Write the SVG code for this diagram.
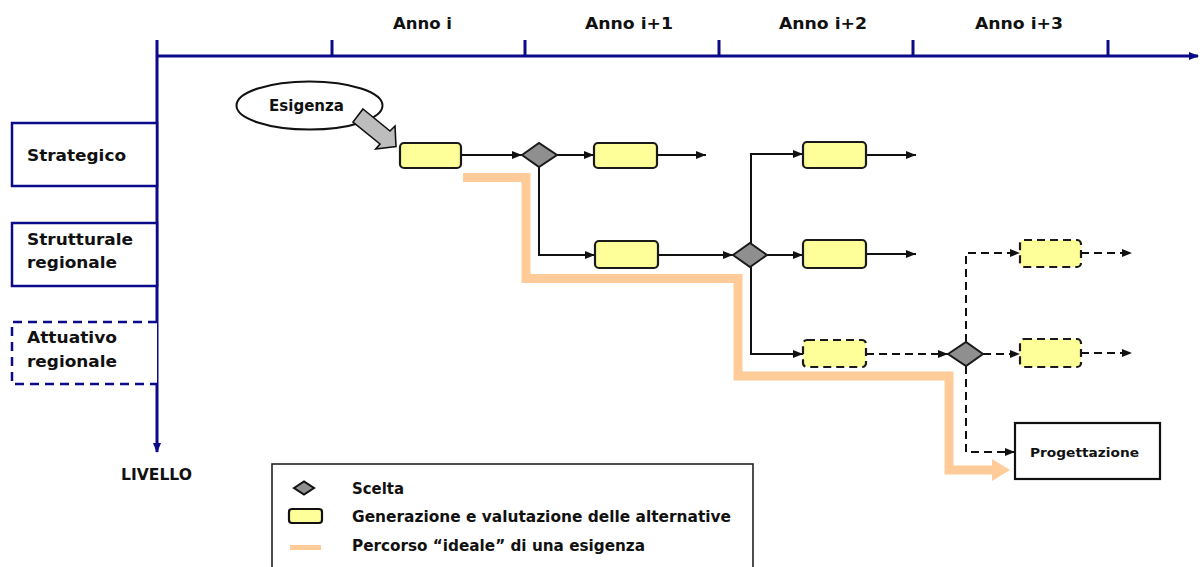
<svg xmlns="http://www.w3.org/2000/svg" width="1200" height="567" viewBox="0 0 1200 567">
<style>
  text { font-family: "DejaVu Sans", Verdana, sans-serif; font-weight: bold; fill: #111; }
  .axis { stroke: #0b0b8a; stroke-width: 3; fill: none; }
  .lvl { stroke: #0b0b8a; stroke-width: 2.5; fill: #fff; }
  .lvl-d { stroke: #0b0b8a; stroke-width: 2.5; fill: #fff; stroke-dasharray: 9 6; }
  .box { fill: #ffff99; stroke: #1a1a1a; stroke-width: 2.2; }
  .box-d { fill: #ffff99; stroke: #1a1a1a; stroke-width: 2.2; stroke-dasharray: 8 5; }
  .dia { fill: #8f8f8f; stroke: #1a1a1a; stroke-width: 2; }
  .con { stroke: #111; stroke-width: 2; fill: none; marker-end: url(#ah); }
  .con-d { stroke: #111; stroke-width: 2; fill: none; stroke-dasharray: 8 5; marker-end: url(#ah); }
  .path { stroke: #ffcc99; stroke-width: 9; fill: none; }
</style>
<defs>
  <marker id="ah" viewBox="0 0 10 8" refX="10" refY="4" markerWidth="10" markerHeight="8" markerUnits="userSpaceOnUse" orient="auto">
    <path d="M0,0 L10,4 L0,8 z" fill="#111"/>
  </marker>
  <marker id="axh" viewBox="0 0 10 8" refX="9" refY="4" markerWidth="10" markerHeight="8" markerUnits="userSpaceOnUse" orient="auto">
    <path d="M0,0 L10,4 L0,8 z" fill="#0b0b8a"/>
  </marker>
</defs>

<!-- axes -->
<g id="axes">
  <line class="axis" x1="157" y1="56" x2="1198" y2="56" marker-end="url(#axh)"/>
  <line class="axis" x1="157" y1="40" x2="157" y2="452" marker-end="url(#axh)"/>
  <line class="axis" x1="332" y1="40" x2="332" y2="56"/>
  <line class="axis" x1="525" y1="40" x2="525" y2="56"/>
  <line class="axis" x1="719" y1="40" x2="719" y2="56"/>
  <line class="axis" x1="913" y1="40" x2="913" y2="56"/>
  <line class="axis" x1="1108" y1="40" x2="1108" y2="56"/>
  <text x="393" y="29" font-size="16" textLength="59" lengthAdjust="spacingAndGlyphs">Anno i</text>
  <text x="585" y="29" font-size="16" textLength="88" lengthAdjust="spacingAndGlyphs">Anno i+1</text>
  <text x="779" y="29" font-size="16" textLength="88" lengthAdjust="spacingAndGlyphs">Anno i+2</text>
  <text x="975" y="29" font-size="16" textLength="88" lengthAdjust="spacingAndGlyphs">Anno i+3</text>
  <text x="121" y="480" font-size="15" textLength="71" lengthAdjust="spacingAndGlyphs">LIVELLO</text>
</g>

<!-- levels -->
<g id="lvl-strategico">
  <rect class="lvl" x="12" y="123" width="145" height="63"/>
  <text x="27" y="161" font-size="16" textLength="99" lengthAdjust="spacingAndGlyphs">Strategico</text>
</g>
<g id="lvl-strutturale">
  <rect class="lvl" x="12" y="223" width="145" height="63"/>
  <text x="27" y="245" font-size="16" textLength="106" lengthAdjust="spacingAndGlyphs">Strutturale</text>
  <text x="27" y="268" font-size="16" textLength="90" lengthAdjust="spacingAndGlyphs">regionale</text>
</g>
<g id="lvl-attuativo">
  <path class="lvl-d" d="M157,322 H12 V384 H157"/>
  <text x="27" y="343" font-size="16" textLength="90" lengthAdjust="spacingAndGlyphs">Attuativo</text>
  <text x="27" y="367" font-size="16" textLength="90" lengthAdjust="spacingAndGlyphs">regionale</text>
</g>

<!-- ideal path -->
<g id="ideal-path">
  <polyline class="path" points="463,177.5 526,177.5 526,278.5 738,278.5 738,376 949,376 949,470 993,470"/>
  <polygon points="992,459 1010,470 992,481" fill="#ffcc99"/>
</g>

<!-- esigenza -->
<g id="esigenza">
  <ellipse cx="309.5" cy="105.5" rx="73" ry="24" fill="#fff" stroke="#111" stroke-width="2"/>
  <text x="269" y="111" font-size="15" textLength="75" lengthAdjust="spacingAndGlyphs">Esigenza</text>
  <polygon points="363,109 390,131 395,126 396,146.5 375.7,149 380,144 353,122" fill="#bdbdbd" stroke="#111" stroke-width="1.6" stroke-linejoin="miter"/>
</g>

<!-- connectors -->
<g id="connectors">
  <line class="con" x1="461" y1="155" x2="522" y2="155"/>
  <line class="con" x1="557" y1="155" x2="594" y2="155"/>
  <line class="con" x1="657" y1="155" x2="706" y2="155"/>
  <polyline class="con" points="539,167 539,255 595,255"/>
  <line class="con" x1="658" y1="255" x2="733" y2="255"/>
  <polyline class="con" points="751,243 751,154 803,154"/>
  <line class="con" x1="866" y1="155" x2="916" y2="155"/>
  <line class="con" x1="767" y1="255" x2="803" y2="255"/>
  <line class="con" x1="866" y1="254" x2="916" y2="254"/>
  <polyline class="con" points="751,267 751,354 803,354"/>
  <line class="con-d" x1="866" y1="354" x2="948" y2="354"/>
  <polyline class="con-d" points="966,342 966,253 1020,253"/>
  <line class="con-d" x1="1081" y1="253" x2="1132" y2="253"/>
  <line class="con-d" x1="983" y1="354" x2="1020" y2="354"/>
  <line class="con-d" x1="1081" y1="353" x2="1132" y2="353"/>
  <polyline class="con-d" points="966,366 966,452 1015,452"/>
</g>

<!-- nodes -->
<g id="alt-a"><rect class="box" x="400" y="143" width="61" height="25" rx="4"/></g>
<g id="scelta-1"><polygon class="dia" points="522,155 539,143 557,155 539,167"/></g>
<g id="alt-b"><rect class="box" x="594" y="143" width="63" height="25" rx="4"/></g>
<g id="alt-c"><rect class="box" x="595" y="241" width="63" height="27" rx="4"/></g>
<g id="scelta-2"><polygon class="dia" points="733,255 750,243 767,255 750,267"/></g>
<g id="alt-d"><rect class="box" x="803" y="142" width="63" height="26" rx="4"/></g>
<g id="alt-e"><rect class="box" x="803" y="240" width="63" height="28" rx="4"/></g>
<g id="alt-f"><rect class="box-d" x="803" y="340" width="63" height="27" rx="4"/></g>
<g id="scelta-3"><polygon class="dia" points="948,354 966,342 983,354 966,366"/></g>
<g id="alt-g"><rect class="box-d" x="1020" y="240" width="61" height="27" rx="4"/></g>
<g id="alt-h"><rect class="box-d" x="1020" y="339" width="61" height="28" rx="4"/></g>
<g id="progettazione">
  <rect x="1015" y="423" width="145" height="56" fill="#fff" stroke="#111" stroke-width="2.2"/>
  <text x="1030" y="457" font-size="13" textLength="109" lengthAdjust="spacingAndGlyphs">Progettazione</text>
</g>

<!-- legend -->
<g id="legend">
  <rect x="272" y="464" width="481" height="110" fill="#fff" stroke="#222" stroke-width="1.6"/>
  <polygon points="294,488 304,481.5 314,488 304,494.5" fill="#8f8f8f" stroke="#111" stroke-width="2"/>
  <text x="352" y="494" font-size="15" textLength="52" lengthAdjust="spacingAndGlyphs">Scelta</text>
  <rect x="289" y="509" width="33" height="14" rx="3" fill="#ffff99" stroke="#111" stroke-width="2.2"/>
  <text x="352" y="522" font-size="15" textLength="379" lengthAdjust="spacingAndGlyphs">Generazione e valutazione delle alternative</text>
  <line x1="290" y1="547.5" x2="321" y2="547.5" stroke="#ffcc99" stroke-width="5"/>
  <text x="352" y="551" font-size="15" textLength="293" lengthAdjust="spacingAndGlyphs">Percorso “ideale” di una esigenza</text>
</g>
</svg>
